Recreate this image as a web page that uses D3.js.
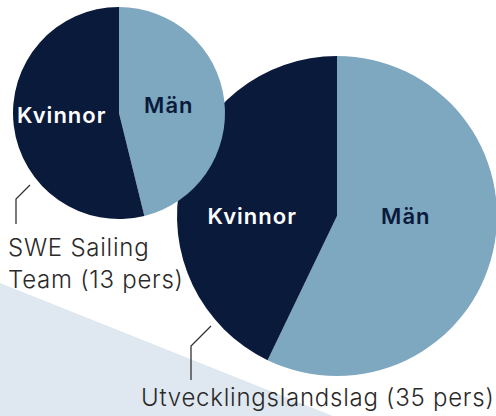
<!DOCTYPE html>
<html><head><meta charset="utf-8">
<script src="https://cdn.jsdelivr.net/npm/d3@7"></script>
<style>
html,body{margin:0;padding:0;background:#fff;}
svg{display:block;}
</style></head>
<body>
<svg id="c" width="496" height="416"></svg>
<script>
// Data
const categories = ["Män", "Kvinnor"];
const groups = ["SWE Sailing Team (13 pers)", "Utvecklingslandslag (35 pers)"];
const groupLines = [["SWE Sailing", "Team (13 pers)"], ["Utvecklingslandslag (35 pers)"]];
const sweSailingTeam = [6, 7];          // Män, Kvinnor
const utvecklingslandslag = [20, 15];   // Män, Kvinnor

const colors = {"Män": "#7ea7c0", "Kvinnor": "#0a1a3b"};
const labelColors = {"Män": "#0a1a3b", "Kvinnor": "#ffffff"};

const svg = d3.select("#c");
const FONT = "Inter, 'Open Sans', sans-serif";

// background wedge
svg.append("path")
  .attr("d", "M0,283 L333,416 L0,416 Z")
  .attr("fill", "#dfe8f0");

const pie = d3.pie().sort(null).value(d => d.v);

const layouts = [
  {values: utvecklingslandslag, cx: 337, cy: 216, r: 160,
   lab: {"Män": [0.43, 0], "Kvinnor": [-0.53, 0]}},
  {values: sweSailingTeam, cx: 119, cy: 113, r: 106,
   lab: {"Män": [0.47, -8], "Kvinnor": [-0.54, 2]}}
];

layouts.forEach(L => {
  const data = categories.map((c, i) => ({c, v: L.values[i]}));
  const arc = d3.arc().innerRadius(0).outerRadius(L.r);
  const g = svg.append("g").attr("transform", `translate(${L.cx},${L.cy})`);
  g.selectAll("path").data(pie(data)).join("path")
    .attr("d", arc)
    .attr("fill", d => colors[d.data.c]);
  g.selectAll("text").data(data).join("text")
    .attr("x", d => L.r * L.lab[d.c][0])
    .attr("y", d => L.lab[d.c][1])
    .attr("dy", "0.35em")
    .attr("text-anchor", "middle")
    .attr("font-family", FONT)
    .attr("font-weight", 600)
    .attr("font-size", 22)
    .attr("letter-spacing", 1)
    .attr("fill", d => labelColors[d.c])
    .text(d => d.c);
});

// leader lines
const leaders = [
  [[30,185],[16,199],[16,224]],
  [[211,326],[191,346],[191,380]]
];
leaders.forEach(pts => {
  svg.append("path").attr("d", d3.line()(pts))
    .attr("fill", "none").attr("stroke", "#333").attr("stroke-width", 1.3);
});

// group labels
const glab = [
  {x: 8, y: 256, lh: 32},
  {x: 141, y: 406, lh: 32}
];
groupLines.forEach((lines, i) => {
  const t = svg.append("text")
    .attr("font-family", FONT)
    .attr("font-weight", 300)
    .attr("font-size", 24)
    .attr("letter-spacing", 0.75)
    .attr("fill", "#2a2a2a");
  lines.forEach((ln, j) => {
    t.append("tspan").attr("x", glab[i].x).attr("y", glab[i].y + j * glab[i].lh).text(ln);
  });
});
</script>
</body></html>
